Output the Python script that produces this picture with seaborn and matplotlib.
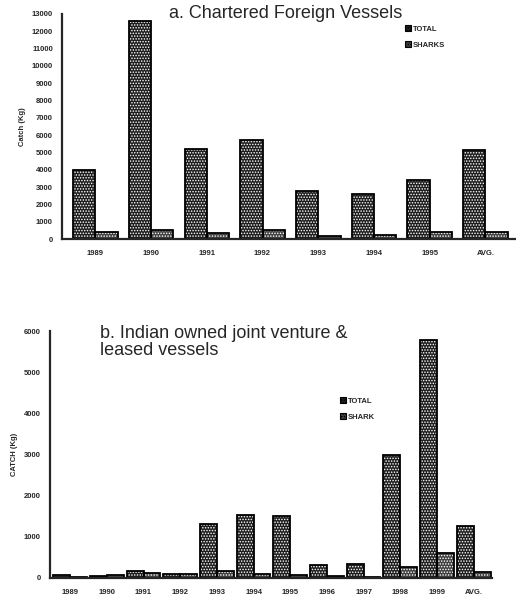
import numpy as np
import pandas as pd
import matplotlib
matplotlib.use("Agg")
import matplotlib.pyplot as plt
import seaborn as sns

# a. Chartered foreign vessels (catch, kg)
years_a = ["1989", "1990", "1991", "1992", "1993", "1994", "1995", "AVG."]
total_a = [4000, 12600, 5200, 5700, 2800, 2600, 3400, 5150]
shark_a = [400, 500, 350, 500, 150, 250, 400, 400]

# b. Indian owned joint venture & leased vessels (catch, kg)
years_b = ["1989", "1990", "1991", "1992", "1993", "1994", "1995",
           "1996", "1997", "1998", "1999", "AVG."]
total_b = [80, 50, 180, 100, 1300, 1520, 1500, 320, 350, 3000, 5770, 1260]
shark_b = [30, 70, 120, 100, 180, 100, 80, 50, 30, 260, 600, 150]


def long_form(years, total, shark, shark_name):
    return pd.DataFrame({
        "year": years * 2,
        "catch": total + shark,
        "kind": ["TOTAL"] * len(years) + [shark_name] * len(years),
    })


df_a = long_form(years_a, total_a, shark_a, "SHARKS")
df_b = long_form(years_b, total_b, shark_b, "SHARK")

sns.set_style("white")
plt.rcParams["font.family"] = ["Liberation Sans", "DejaVu Sans"]
plt.rcParams["hatch.linewidth"] = 0.7

fig = plt.figure(figsize=(5.16, 6), dpi=100)
ax1 = fig.add_axes([62 / 516, 1 - 239 / 600, 454 / 516, 225 / 600])
ax2 = fig.add_axes([50 / 516, 1 - 578 / 600, 442 / 516, 247 / 600])

FILL = {"TOTAL": "#1e1e1e", "SHARKS": "#404040", "SHARK": "#404040"}


def draw(ax, df, width, ymax, step, ylabel, legend_xy):
    kinds = list(df["kind"].unique())
    sns.barplot(data=df, x="year", y="catch", hue="kind", ax=ax,
                palette=[FILL[k] for k in kinds], width=width, legend=False,
                saturation=1)
    for p in list(ax.patches):
        p.set_hatch("......")
        p.set_edgecolor("white")
        p.set_linewidth(0)
        ax.add_patch(plt.Rectangle(p.get_xy(), p.get_width(), p.get_height(),
                                   fill=False, edgecolor="black", linewidth=1.3))
    ax.set_ylim(0, ymax)
    ax.set_yticks(np.arange(0, ymax + 1, step))
    ax.tick_params(axis="both", labelsize=5.5, length=3, width=1.2, direction="out")
    for t in ax.get_xticklabels() + ax.get_yticklabels():
        t.set_fontweight("bold")
    ax.tick_params(axis="x", length=0, pad=8)
    ax.set_xlabel("")
    ax.set_ylabel(ylabel, fontsize=5.5, fontweight="bold")
    sns.despine(ax=ax)
    ax.spines["left"].set_linewidth(1.6)
    ax.spines["bottom"].set_linewidth(1.6)
    handles = [plt.Rectangle((0, 0), 1, 1, facecolor=FILL[k], hatch="......",
                             edgecolor="black", linewidth=0.8)
               for k in kinds]
    ax.legend(handles, kinds, loc="upper left",
              bbox_to_anchor=legend_xy, frameon=False,
              prop={"size": 5.5, "weight": "bold"}, handlelength=0.8,
              handleheight=0.8, handletextpad=0.3, labelspacing=1.1)


draw(ax1, df_a, 0.8, 13000, 1000, "Catch (Kg)", (0.74, 0.98))
draw(ax2, df_b, 0.92, 6000, 1000, "CATCH (Kg)", (0.64, 0.76))
ax1.set_xlim(-0.6, 7.55)
ax2.set_xlim(-0.55, 11.5)

fig.text(286 / 516, 1 - 13 / 600, "a. Chartered Foreign Vessels",
         ha="center", va="center", fontsize=13)
fig.text(100 / 516, 1 - 342 / 600, "b. Indian owned joint venture &\nleased vessels",
         ha="left", va="center", fontsize=13, linespacing=1.05)

fig.savefig("out.png", dpi=100)
